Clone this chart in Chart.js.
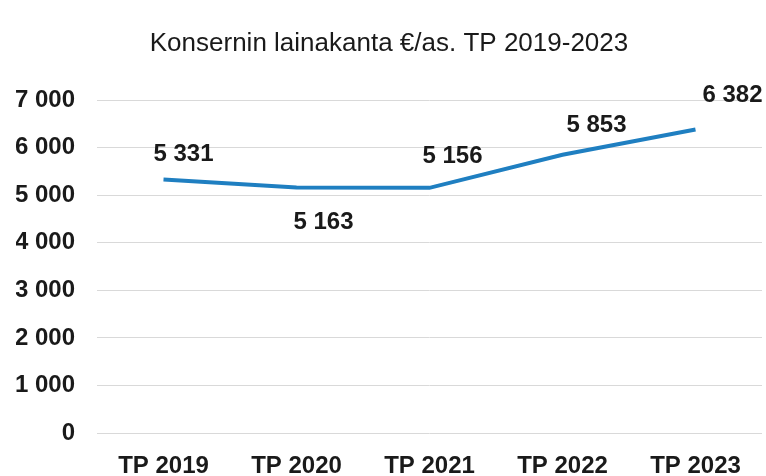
<!DOCTYPE html>
<html>
<head>
<meta charset="utf-8">
<script src="https://cdn.jsdelivr.net/npm/chart.js@4"></script>
<style>
  html, body { margin: 0; padding: 0; background: #fff; }
  #wrap { width: 766px; height: 476px; }
</style>
</head>
<body>
<div id="wrap"><canvas id="myChart" width="766" height="476"></canvas></div>
<script>
// data
const categories = ['TP 2019', 'TP 2020', 'TP 2021', 'TP 2022', 'TP 2023'];
const loanPerCapita = [5331, 5163, 5156, 5853, 6382];
const yTicks = [0, 1000, 2000, 3000, 4000, 5000, 6000, 7000];

function fmt(v) {
    return String(v).replace(/\B(?=(\d{3})+(?!\d))/g, ' ');
}

// value labels next to the points (second one sits under the line)
const valueLabels = {
    id: 'valueLabels',
    afterDatasetsDraw(chart) {
        const ctx = chart.ctx;
        const meta = chart.getDatasetMeta(0);
        const shiftX = [20, 27, 23, 34, 37];
        const shiftY = [-25, 35, -31, -29, -34];
        ctx.save();
        ctx.font = 'bold 24px "Liberation Sans", Arial, sans-serif';
        ctx.fillStyle = '#1a1a1a';
        ctx.textAlign = 'center';
        ctx.textBaseline = 'middle';
        meta.data.forEach(function(pt, i) {
            ctx.fillText(fmt(loanPerCapita[i]), pt.x + shiftX[i], pt.y + shiftY[i]);
        });
        ctx.restore();
    }
};

const ctx = document.getElementById('myChart').getContext('2d');
new Chart(ctx, {
    type: 'line',
    data: {
        labels: categories,
        datasets: [{
            data: loanPerCapita,
            borderColor: '#1f7fc1',
            borderWidth: 4,
            tension: 0,
            pointRadius: 0,
            fill: false
        }]
    },
    options: {
        responsive: false,
        animation: false,
        layout: { padding: { left: 16, right: 4, top: 0, bottom: 0 } },
        plugins: {
            legend: { display: false },
            tooltip: { enabled: false },
            title: {
                display: true,
                text: 'Konsernin lainakanta €/as. TP 2019-2023',
                color: '#1a1a1a',
                font: { family: '"Liberation Sans", Arial, sans-serif', size: 26, weight: 'normal' },
                padding: { top: 28, bottom: 41 }
            }
        },
        scales: {
            x: {
                offset: true,
                afterFit: function(scale) { scale.height = 43; },
                grid: { display: false },
                border: { display: false },
                ticks: {
                    color: '#1a1a1a',
                    padding: 11,
                    maxRotation: 0,
                    font: { family: '"Liberation Sans", Arial, sans-serif', size: 24, weight: 'bold' }
                }
            },
            y: {
                min: 0,
                max: 7000,
                afterBuildTicks: function(scale) {
                    scale.ticks = yTicks.map(function(v) { return { value: v }; });
                },
                afterFit: function(scale) { scale.width = 81; },
                grid: { color: '#d9d9d9', lineWidth: 1, drawTicks: false },
                border: { display: false },
                ticks: {
                    color: '#1a1a1a',
                    padding: 22,
                    font: { family: '"Liberation Sans", Arial, sans-serif', size: 24, weight: 'bold' },
                    callback: function(v) { return fmt(v); }
                }
            }
        }
    },
    plugins: [valueLabels]
});
</script>
</body>
</html>
